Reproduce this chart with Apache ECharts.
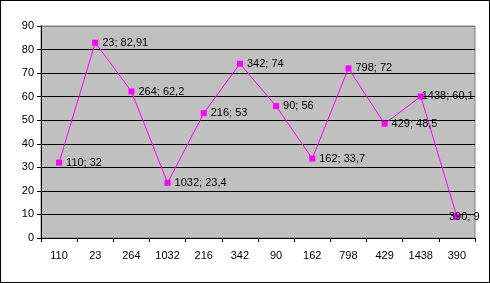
<!DOCTYPE html>
<html><head><meta charset="utf-8">
<script src="https://cdn.jsdelivr.net/npm/echarts@6/dist/echarts.min.js"></script>
<style>html,body{margin:0;padding:0;background:#fff}#c{width:490px;height:283px;box-sizing:border-box;border:1px solid #000}</style>
</head><body><div id="c"></div>
<script>
const categories = ['110','23','264','1032','216','342','90','162','798','429','1438','390'];
const values = [32, 82.91, 62.2, 23.4, 53, 74, 56, 33.7, 72, 48.5, 60.1, 9];
const yTicks = {min: 0, max: 90, interval: 10};

const fmt = v => String(v).replace('.', ',');
const data = values.map((v, i) => {
  const d = {value: v};
  if (i === values.length - 1) d.label = {offset: [-15, 0]};
  if (i === values.length - 2) d.label = {offset: [-6, 0]};
  return d;
});
const chart = echarts.init(document.getElementById('c'));
const splitColors = [];
for (let i = 0; i < 9; i++) splitColors.push('#000');
splitColors.push('#808080');
chart.setOption({
  animation: false,
  textStyle: {fontFamily: 'Liberation Sans, Arial, sans-serif'},
  grid: {left: 40, right: 14, top: 25, bottom: 44, show: true, backgroundColor: '#c0c0c0', borderColor: '#808080', borderWidth: 1},
  xAxis: {
    type: 'category', data: categories, boundaryGap: true,
    axisLine: {lineStyle: {color: '#000'}},
    axisTick: {show: true, length: 4, lineStyle: {color: '#000'}},
    axisLabel: {color: '#000', fontSize: 11, margin: 12}
  },
  yAxis: {
    type: 'value', min: yTicks.min, max: yTicks.max, interval: yTicks.interval,
    axisLine: {show: true, lineStyle: {color: '#000'}},
    axisTick: {show: true, length: 4, lineStyle: {color: '#000'}},
    axisLabel: {color: '#000', fontSize: 11, margin: 7},
    splitLine: {show: true, lineStyle: {color: splitColors, width: 1}}
  },
  series: [{
    type: 'line', data: data,
    symbol: 'rect', symbolSize: 6,
    itemStyle: {color: '#ff00ff'},
    lineStyle: {color: '#ff00ff', width: 1},
    label: {show: true, position: 'right', distance: 4, color: '#000', fontSize: 11,
      formatter: p => categories[p.dataIndex] + '; ' + fmt(p.value)}
  }]
});
</script></body></html>
